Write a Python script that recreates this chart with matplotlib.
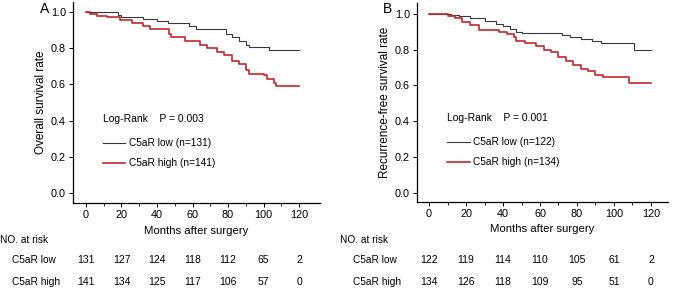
import matplotlib
matplotlib.use("Agg")
import matplotlib.pyplot as plt
import numpy as np

plt.rcParams['font.family'] = ['Liberation Sans', 'DejaVu Sans']

# ---- Data ----
# Panel A: overall survival
a_low_t = [0, 18, 20, 32, 40, 46, 58, 62, 79, 82, 86, 90, 92, 103, 120]
a_low_s = [1.0, 0.985, 0.97, 0.96, 0.95, 0.94, 0.925, 0.905, 0.88, 0.86, 0.84, 0.82, 0.805, 0.79, 0.79]
a_high_t = [0, 2, 6, 12, 19, 26, 32, 36, 47, 48, 56, 64, 68, 74, 78, 82, 86, 90, 92, 100, 102, 106, 107, 120]
a_high_s = [1.0, 0.99, 0.98, 0.97, 0.955, 0.94, 0.92, 0.905, 0.88, 0.86, 0.84, 0.82, 0.80, 0.78, 0.76,
            0.73, 0.71, 0.68, 0.66, 0.65, 0.63, 0.61, 0.59, 0.59]

# Panel B: recurrence-free survival
b_low_t = [0, 12, 16, 22, 30, 36, 40, 44, 47, 50, 72, 76, 82, 88, 93, 111, 120]
b_low_s = [1.0, 0.995, 0.985, 0.975, 0.96, 0.945, 0.93, 0.915, 0.90, 0.89, 0.88, 0.87, 0.86, 0.85,
           0.835, 0.80, 0.80]
b_high_t = [0, 10, 14, 18, 22, 27, 38, 42, 46, 47, 52, 58, 62, 66, 70, 74, 78, 82, 86, 90, 94, 108, 120]
b_high_s = [1.0, 0.99, 0.975, 0.955, 0.935, 0.91, 0.90, 0.885, 0.87, 0.85, 0.835, 0.82, 0.80, 0.785,
            0.76, 0.735, 0.715, 0.69, 0.68, 0.66, 0.645, 0.615, 0.615]

risk_times = [0, 20, 40, 60, 80, 100, 120]
a_risk_low = [131, 127, 124, 118, 112, 65, 2]
a_risk_high = [141, 134, 125, 117, 106, 57, 0]
b_risk_low = [122, 119, 114, 110, 105, 61, 2]
b_risk_high = [134, 126, 118, 109, 95, 51, 0]

panels = [
    dict(letter='A', ylabel='Overall survival rate', p='P = 0.003',
         low=(a_low_t, a_low_s), high=(a_high_t, a_high_s),
         n_low=131, n_high=141, risk_low=a_risk_low, risk_high=a_risk_high,
         rect=[73/675, 1-203/290, 247/675, 201/290], xlim=(-7.3, 131.8), ylim=(-0.055, 1.055)),
    dict(letter='B', ylabel='Recurrence-free survival rate', p='P = 0.001',
         low=(b_low_t, b_low_s), high=(b_high_t, b_high_s),
         n_low=122, n_high=134, risk_low=b_risk_low, risk_high=b_risk_high,
         rect=[417/675, 1-202/290, 251/675, 199/290], xlim=(-6.5, 129.2), ylim=(-0.05, 1.06)),
]

low_color = '#3a3a3a'
high_color = '#c0272d'

fig = plt.figure(figsize=(6.75, 2.9), dpi=100)

for k, P in enumerate(panels):
    ax = fig.add_axes(P['rect'])
    ax.step(P['low'][0], P['low'][1], where='post', color=low_color, lw=0.8)
    ax.step(P['high'][0], P['high'][1], where='post', color=high_color, lw=1.2)
    ax.set_xlim(*P['xlim'])
    ax.set_ylim(*P['ylim'])
    ax.set_xticks(risk_times)
    ax.set_xticks(np.arange(10, 121, 20), minor=True)
    ax.set_yticks([0.0, 0.2, 0.4, 0.6, 0.8, 1.0])
    ax.set_yticklabels(['0.0', '0.2', '0.4', '0.6', '0.8', '1.0'])
    for s in ['top', 'right']:
        ax.spines[s].set_visible(False)
    for s in ['left', 'bottom']:
        ax.spines[s].set_linewidth(0.9)
    ax.tick_params(axis='both', which='major', labelsize=7.8, length=3, width=0.7, pad=2)
    ax.tick_params(axis='x', which='minor', length=2, width=0.6)
    ax.set_ylabel(P['ylabel'], fontsize=8.5, labelpad=3)
    ax.set_xlabel('Months after surgery', fontsize=8.2, labelpad=4)

    # annotations inside the plot
    ax.text(0.12, 0.42, 'Log-Rank    ' + P['p'], transform=ax.transAxes, fontsize=7.5, va='center')
    ax.plot([0.12, 0.21], [0.30, 0.30], transform=ax.transAxes, color=low_color, lw=0.8)
    ax.plot([0.12, 0.21], [0.20, 0.20], transform=ax.transAxes, color=high_color, lw=1.2)
    ax.text(0.225, 0.30, 'C5aR low (n=%d)' % P['n_low'], transform=ax.transAxes, fontsize=7.3, va='center')
    ax.text(0.225, 0.20, 'C5aR high (n=%d)' % P['n_high'], transform=ax.transAxes, fontsize=7.3, va='center')

    # panel letter
    lx = 40/675 if k == 0 else 383/675
    fig.text(lx, 1-9/290, P['letter'], fontsize=10, va='center')

    # number at risk table
    nx = 0/675 if k == 0 else 340/675
    rx = 12/675 if k == 0 else 353/675
    fig.text(nx, 1-240/290, 'NO. at risk', fontsize=7.3, va='center')
    fig.text(rx, 1-260/290, 'C5aR low', fontsize=7.3, va='center')
    fig.text(rx, 1-282/290, 'C5aR high', fontsize=7.3, va='center')
    trans = matplotlib.transforms.blended_transform_factory(ax.transData, fig.transFigure)
    for t, vl, vh in zip(risk_times, P['risk_low'], P['risk_high']):
        ax.text(t, 1-260/290, str(vl), transform=trans, fontsize=7.5, ha='center', va='center', clip_on=False)
        ax.text(t, 1-282/290, str(vh), transform=trans, fontsize=7.5, ha='center', va='center', clip_on=False)

fig.savefig('out.png', dpi=100)
